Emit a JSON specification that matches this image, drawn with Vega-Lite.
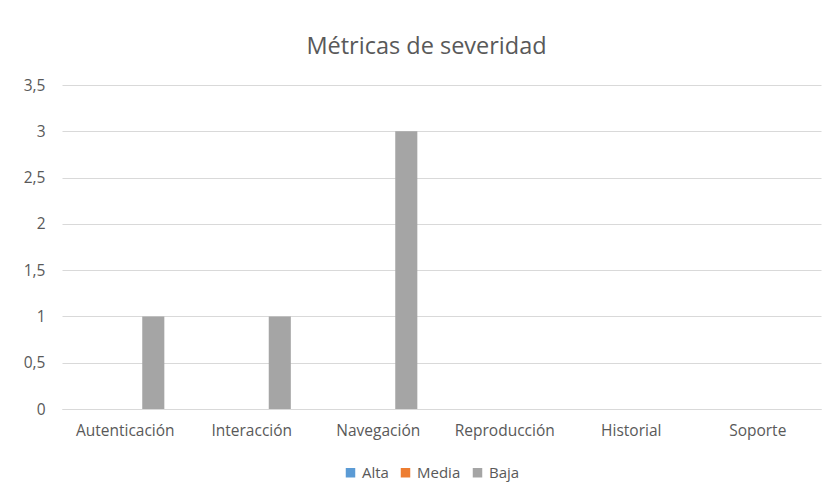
{
  "$schema": "https://vega.github.io/schema/vega-lite/v6.json",
  "autosize": "none",
  "width": 759,
  "height": 324,
  "padding": {"left": 62, "top": 85, "right": 17, "bottom": 84},
  "background": "white",
  "title": {
    "text": "Métricas de severidad",
    "font": "Open Sans",
    "fontSize": 23.5,
    "fontWeight": "normal",
    "color": "#595959",
    "anchor": "middle",
    "dx": -15,
    "offset": 20
  },
  "data": {
    "values": [
      {"categoria": "Autenticación", "severidad": "Alta", "valor": 0},
      {"categoria": "Autenticación", "severidad": "Media", "valor": 0},
      {"categoria": "Autenticación", "severidad": "Baja", "valor": 1},
      {"categoria": "Interacción", "severidad": "Alta", "valor": 0},
      {"categoria": "Interacción", "severidad": "Media", "valor": 0},
      {"categoria": "Interacción", "severidad": "Baja", "valor": 1},
      {"categoria": "Navegación", "severidad": "Alta", "valor": 0},
      {"categoria": "Navegación", "severidad": "Media", "valor": 0},
      {"categoria": "Navegación", "severidad": "Baja", "valor": 3},
      {"categoria": "Reproducción", "severidad": "Alta", "valor": 0},
      {"categoria": "Reproducción", "severidad": "Media", "valor": 0},
      {"categoria": "Reproducción", "severidad": "Baja", "valor": 0},
      {"categoria": "Historial", "severidad": "Alta", "valor": 0},
      {"categoria": "Historial", "severidad": "Media", "valor": 0},
      {"categoria": "Historial", "severidad": "Baja", "valor": 0},
      {"categoria": "Soporte", "severidad": "Alta", "valor": 0},
      {"categoria": "Soporte", "severidad": "Media", "valor": 0},
      {"categoria": "Soporte", "severidad": "Baja", "valor": 0}
    ]
  },
  "mark": {"type": "bar"},
  "encoding": {
    "x": {
      "field": "categoria",
      "type": "nominal",
      "sort": null,
      "scale": {"paddingInner": 0, "paddingOuter": 0},
      "axis": {
        "title": null,
        "labelAngle": 0,
        "labelFont": "Open Sans",
        "labelFontSize": 15.5,
        "labelColor": "#595959",
        "labelPadding": 14,
        "ticks": false,
        "domainColor": "#D9D9D9",
        "domainWidth": 1,
        "grid": false
      }
    },
    "xOffset": {
      "field": "severidad",
      "type": "nominal",
      "sort": ["Alta", "Media", "Baja"],
      "scale": {"paddingInner": 0.2126, "paddingOuter": 0.862}
    },
    "y": {
      "field": "valor",
      "type": "quantitative",
      "scale": {"domain": [0, 3.5], "nice": false},
      "axis": {
        "title": null,
        "values": [0, 0.5, 1, 1.5, 2, 2.5, 3, 3.5],
        "format": "~g",
        "labelExpr": "replace(datum.label, '.', ',')",
        "labelFont": "Open Sans",
        "labelFontSize": 15.5,
        "labelColor": "#595959",
        "labelPadding": 17,
        "ticks": false,
        "domain": false,
        "grid": true,
        "gridColor": "#D9D9D9",
        "gridWidth": 1
      }
    },
    "color": {
      "field": "severidad",
      "type": "nominal",
      "sort": ["Alta", "Media", "Baja"],
      "scale": {"domain": ["Alta", "Media", "Baja"], "range": ["#5B9BD5", "#ED7D31", "#A5A5A5"]},
      "legend": {
        "title": null,
        "orient": "none",
        "legendX": 281,
        "legendY": 380,
        "padding": 0,
        "direction": "horizontal",
        "symbolType": "square",
        "symbolSize": 90,
        "symbolStrokeWidth": 0,
        "labelFont": "Open Sans",
        "labelFontSize": 15,
        "labelColor": "#595959",
        "columnPadding": 9,
        "labelOffset": 4
      }
    }
  },
  "config": {
    "view": {"stroke": null}
  }
}
